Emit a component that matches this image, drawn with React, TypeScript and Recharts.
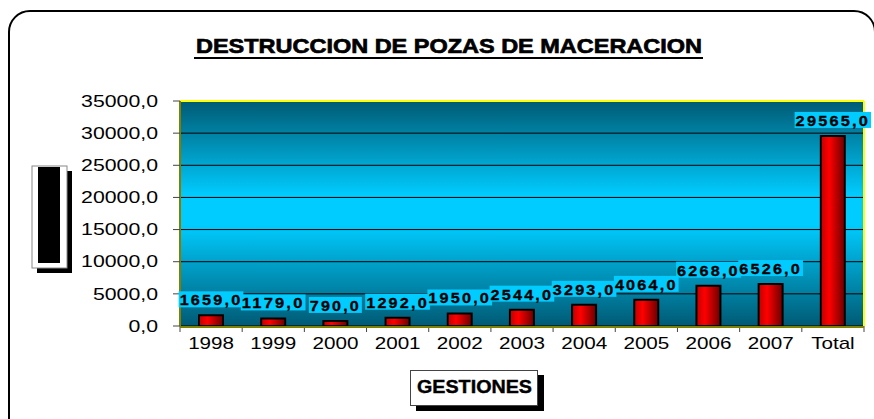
import React from "react";
import {
  BarChart,
  Bar,
  XAxis,
  YAxis,
  CartesianGrid,
  LabelList,
  ReferenceLine,
} from "recharts";

const categories = ["1998", "1999", "2000", "2001", "2002", "2003", "2004", "2005", "2006", "2007", "Total"];
const destroyed = [1659, 1179, 790, 1292, 1950, 2544, 3293, 4064, 6268, 6526, 29565];
const yTicks = [0, 5000, 10000, 15000, 20000, 25000, 30000, 35000];
const boundaryTicks = [0, 1, 2, 3, 4, 5, 6, 7, 8, 9, 10, 11];

const data = categories.map((name, i) => ({ name, value: destroyed[i] }));

const W = 874;
const H = 419;
const plot = { left: 180, top: 101, right: 864, bottom: 326 };
const xAxisHeight = 34;

const font = "'Liberation Sans', Arial, sans-serif";
const fmt = (v: number) => v.toFixed(1).replace(".", ",");

const YTick = (props: any) => {
  const { x, y, payload } = props;
  return (
    <g transform={`translate(${x},${y}) scale(1.33,1)`}>
      <text textAnchor="end" dy="0.36em" fontSize={16} fontFamily={font} fill="#000">
        {fmt(payload.value)}
      </text>
    </g>
  );
};

const XTick = (props: any) => {
  const { x, y, payload } = props;
  return (
    <g transform={`translate(${x},${y}) scale(1.29,1)`}>
      <text textAnchor="middle" y={14} fontSize={16} fontFamily={font} fill="#000">
        {payload.value}
      </text>
    </g>
  );
};

const NoTick = () => <g />;

// label text: bold digits spread out, on a cyan box
const ValueLabel = (props: any) => {
  const { x, y, width, value } = props;
  const s = fmt(value);
  const cx = x + width / 2;
  const digits = s.length - 1;
  const tw = digits * 8.3 + 4.2 + (s.length - 1) * 3.4;
  const bottom = y - 8;
  return (
    <g>
      <rect x={cx - tw / 2 - 1} y={bottom - 16} width={tw + 2} height={16} fill="#00ccff" />
      <text
        x={cx - tw / 2}
        y={bottom - 2}
        textAnchor="start"
        fontSize={15}
        fontWeight="bold"
        fontFamily={font}
        textLength={tw}
        lengthAdjust="spacingAndGlyphs"
        style={{ letterSpacing: 2 }}
        stroke="#000"
        strokeWidth={0.3}
        fill="#000"
      >
        {s}
      </text>
    </g>
  );
};

export default function App() {
  return (
    <div style={{ position: "fixed", left: 0, top: 0, width: W, height: H, background: "#fff", overflow: "hidden" }}>
      <div
        style={{
          position: "absolute",
          left: 8,
          top: 10,
          width: 868,
          height: 440,
          boxSizing: "border-box",
          border: "2.5px solid #000",
          borderRadius: 22,
        }}
      />
      <div style={{ position: "absolute", left: 0, top: 0 }}>
        <BarChart
          width={W}
          height={H}
          data={data}
          margin={{ top: plot.top, right: W - plot.right, left: 0, bottom: H - plot.bottom - xAxisHeight - 1 }}
          barCategoryGap={0}
        >
          <defs>
            <linearGradient id="plotBg" x1="0" y1="0" x2="0" y2="1">
              <stop offset="0%" stopColor="#005a74" />
              <stop offset="42%" stopColor="#00ccff" />
              <stop offset="55%" stopColor="#00ccff" />
              <stop offset="100%" stopColor="#005a74" />
            </linearGradient>
            <linearGradient id="barFill" x1="0" y1="0" x2="1" y2="0">
              <stop offset="0%" stopColor="#c00000" />
              <stop offset="35%" stopColor="#ff0000" />
              <stop offset="100%" stopColor="#6a0000" />
            </linearGradient>
          </defs>
          <CartesianGrid xAxisId="z" fill="url(#plotBg)" vertical={false} stroke="#000" strokeOpacity={1} />
          <XAxis
            xAxisId="a"
            type="number"
            dataKey={() => 0}
            domain={[0, 11]}
            ticks={boundaryTicks}
            tick={<NoTick />}
            tickSize={6}
            height={1}
            axisLine={false}
            tickLine={{ stroke: "#444" }}
            interval={0}
          />
          <XAxis
            xAxisId="z"
            dataKey="name"
            height={xAxisHeight}
            tick={<XTick />}
            tickLine={false}
            axisLine={{ stroke: "#808000", strokeWidth: 2 }}
            interval={0}
          />
          <YAxis
            domain={[0, 35000]}
            ticks={yTicks}
            width={plot.left}
            tick={<YTick />}
            tickSize={7}
            tickMargin={15}
            tickLine={{ stroke: "#444" }}
            axisLine={{ stroke: "#808000", strokeWidth: 2 }}
            interval={0}
          />
          <ReferenceLine xAxisId="z" y={35000} stroke="#ffff00" strokeWidth={2} />
          <ReferenceLine xAxisId="a" x={11} stroke="#ffff00" strokeWidth={2} />
          <Bar
            xAxisId="z"
            dataKey="value"
            barSize={24}
            fill="url(#barFill)"
            stroke="#000"
            strokeWidth={2}
            isAnimationActive={false}
          >
            <LabelList dataKey="value" content={<ValueLabel />} />
          </Bar>
        </BarChart>
      </div>
      <svg width={W} height={H} style={{ position: "absolute", left: 0, top: 0, pointerEvents: "none" }}>
        <text
          x={449}
          y={53}
          textAnchor="middle"
          fontSize={21}
          fontWeight="bold"
          fontFamily={font}
          textLength={506}
          lengthAdjust="spacingAndGlyphs"
          stroke="#000"
          strokeWidth={0.7}
          fill="#000"
        >
          DESTRUCCION DE POZAS DE MACERACION
        </text>
        <line x1={194} y1={58} x2={703} y2={58} stroke="#000" strokeWidth={2} />
        <rect x={37} y={171} width={35} height={102} fill="#000" />
        <rect x={32} y={166} width={35} height={102} fill="#fff" stroke="#888" strokeWidth={1} />
        <rect x={38} y={167} width={22} height={96} fill="#000" />
        <rect x={416} y={375} width={128} height={36} fill="#000" />
        <rect x={410.5} y={370.5} width={127} height={35} fill="#fff" stroke="#444" strokeWidth={1} />
        <text
          x={474.5}
          y={393}
          textAnchor="middle"
          fontSize={18}
          fontWeight="bold"
          fontFamily={font}
          textLength={115}
          lengthAdjust="spacingAndGlyphs"
          stroke="#000"
          strokeWidth={0.4}
          fill="#000"
        >
          GESTIONES
        </text>
      </svg>
    </div>
  );
}
